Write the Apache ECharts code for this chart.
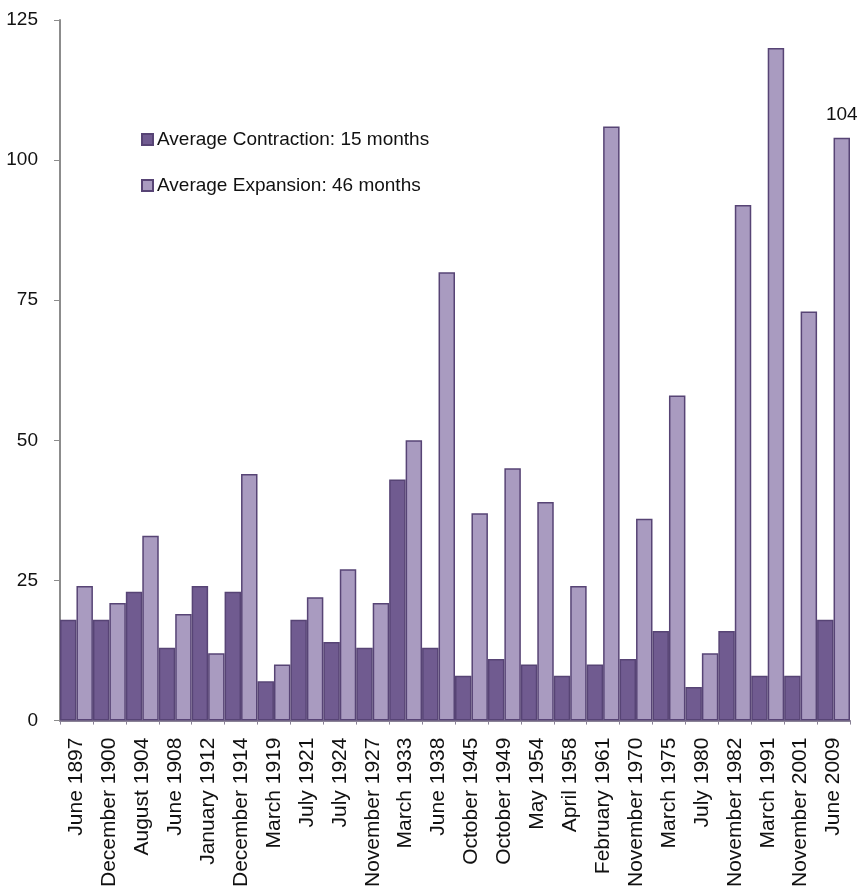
<!DOCTYPE html>
<html>
<head>
<meta charset="utf-8">
<script src="https://cdn.jsdelivr.net/npm/echarts@6/dist/echarts.min.js"></script>
<style>
  html, body { margin: 0; padding: 0; background: #fff; }
  #chart { width: 859px; height: 890px; }
</style>
</head>
<body>
<div id="chart"></div>
<script>
// Business cycle troughs (reference dates)
const troughs = [
  'June 1897', 'December 1900', 'August 1904', 'June 1908', 'January 1912',
  'December 1914', 'March 1919', 'July 1921', 'July 1924', 'November 1927',
  'March 1933', 'June 1938', 'October 1945', 'October 1949', 'May 1954',
  'April 1958', 'February 1961', 'November 1970', 'March 1975', 'July 1980',
  'November 1982', 'March 1991', 'November 2001', 'June 2009'
];

// Months of contraction (peak to trough)
const contraction = [18, 18, 23, 13, 24, 23, 7, 18, 14, 13, 43, 13, 8, 11, 10, 8, 10, 11, 16, 6, 16, 8, 8, 18];

// Months of expansion (trough to next peak)
const expansion = [24, 21, 33, 19, 12, 44, 10, 22, 27, 21, 50, 80, 37, 45, 39, 24, 106, 36, 58, 12, 92, 120, 73, 104];

const seriesNames = ['Average Contraction: 15 months', 'Average Expansion: 46 months'];
const yTicks = [0, 25, 50, 75, 100, 125];

const font = '"Liberation Sans", Arial, sans-serif';
const chart = echarts.init(document.getElementById('chart'), null, { renderer: 'canvas' });

chart.setOption({
  animation: false,
  backgroundColor: '#ffffff',
  textStyle: { fontFamily: font },
  grid: { left: 60, right: 9, top: 20, bottom: 169 },
  legend: {
    orient: 'vertical',
    left: 136,
    top: 125,
    itemGap: 27,
    itemWidth: 11,
    itemHeight: 11,
    icon: 'rect',
    textStyle: { fontFamily: font, fontSize: 19, color: '#111', padding: [0, 0, 0, -1] },
    data: seriesNames
  },
  xAxis: {
    type: 'category',
    data: troughs,
    axisLine: { show: true, lineStyle: { color: '#8a8296', width: 2 } },
    axisTick: { show: true, alignWithLabel: false, length: 4, lineStyle: { color: '#8a8296' } },
    axisLabel: {
      interval: 0,
      rotate: 90,
      fontSize: 21,
      color: '#111',
      margin: 17,
      fontFamily: font
    }
  },
  yAxis: {
    type: 'value',
    min: yTicks[0],
    max: yTicks[yTicks.length - 1],
    interval: 25,
    splitLine: { show: false },
    axisLine: { show: true, lineStyle: { color: '#8c8c8c', width: 2 } },
    axisTick: { show: true, length: 6, lineStyle: { color: '#8c8c8c' } },
    axisLabel: { fontSize: 19, color: '#111', margin: 22, fontFamily: font }
  },
  series: [
    {
      name: seriesNames[0],
      type: 'bar',
      data: contraction,
      barGap: '0%',
      barCategoryGap: '0%',
      itemStyle: { color: '#705b90', borderColor: '#574475', borderWidth: 1.5 }
    },
    {
      name: seriesNames[1],
      type: 'bar',
      data: expansion.map((v, i) => i === expansion.length - 1
        ? { value: v, label: { show: true, position: 'top', distance: 13, fontSize: 19, color: '#111', fontFamily: font } }
        : v),
      barGap: '0%',
      barCategoryGap: '0%',
      itemStyle: { color: '#a99bc0', borderColor: '#574475', borderWidth: 1.5 }
    }
  ]
});
</script>
</body>
</html>
